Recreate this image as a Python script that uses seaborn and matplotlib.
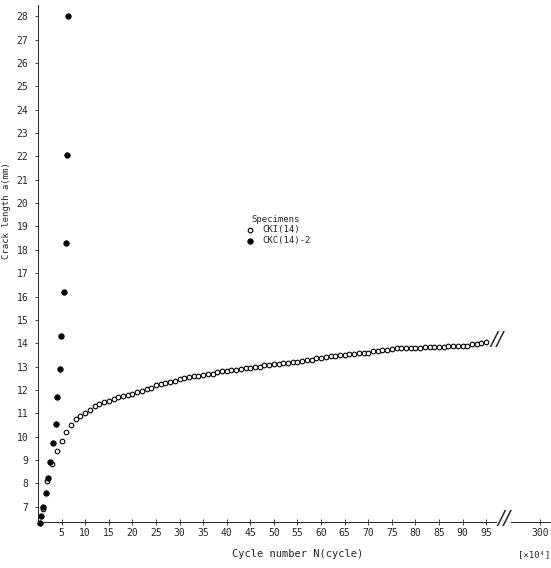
import numpy as np
import pandas as pd
import matplotlib
matplotlib.use("Agg")
import matplotlib.pyplot as plt
import seaborn as sns

# open circles: specimen CKI(14)
cki_cycles = list(range(1, 96))
cki_length = [6.9, 8.1, 8.85, 9.4, 9.8, 10.2, 10.5, 10.75, 10.9, 11.0,
              11.15, 11.3, 11.4, 11.5, 11.55, 11.6, 11.7, 11.75, 11.8, 11.85,
              11.9, 11.95, 12.05, 12.1, 12.2, 12.25, 12.3, 12.35, 12.4, 12.45,
              12.5, 12.55, 12.6, 12.6, 12.65, 12.7, 12.7, 12.75, 12.8, 12.8,
              12.85, 12.85, 12.9, 12.95, 12.95, 13.0, 13.0, 13.05, 13.05, 13.1,
              13.1, 13.15, 13.15, 13.2, 13.2, 13.25, 13.3, 13.3, 13.35, 13.35,
              13.4, 13.45, 13.45, 13.5, 13.5, 13.55, 13.55, 13.6, 13.6, 13.6,
              13.65, 13.65, 13.7, 13.7, 13.75, 13.8, 13.8, 13.8, 13.8, 13.8,
              13.8, 13.85, 13.85, 13.85, 13.85, 13.85, 13.9, 13.9, 13.9, 13.9,
              13.9, 13.95, 13.95, 14.0, 14.05]

# filled circles: specimen CKC(14)
ckc_cycles = [0.4, 0.6, 1.1, 1.7, 2.1, 2.5, 3.2, 3.8, 4.0, 4.7, 4.9, 5.5, 5.9, 6.1, 6.4]
ckc_length = [6.3, 6.6, 7.0, 7.6, 8.25, 8.9, 9.75, 10.55, 11.7, 12.9, 14.3, 16.2, 18.3, 22.05, 28.0]

labels = ["CKI(14)", "CKC(14)-2"]
x_ticks = [5, 10, 15, 20, 25, 30, 35, 40, 45, 50, 55, 60, 65, 70, 75, 80, 85, 90, 95]
y_ticks = list(range(7, 29))

df = pd.concat([
    pd.DataFrame({"N": cki_cycles, "a": cki_length, "spec": labels[0]}),
    pd.DataFrame({"N": ckc_cycles, "a": ckc_length, "spec": labels[1]}),
])

sns.set_style("ticks")
plt.rcParams["font.family"] = ["DejaVu Sans Mono", "DejaVu Sans"]

fig = plt.figure(figsize=(5.51, 5.68), dpi=100)
ax = fig.add_axes([0.069, 0.081, 0.929, 0.911])

sns.scatterplot(data=df[df.spec == labels[0]], x="N", y="a", ax=ax,
                marker="o", s=11, facecolor="white", edgecolor="black",
                linewidth=0.8, label=labels[0], clip_on=False)
sns.scatterplot(data=df[df.spec == labels[1]], x="N", y="a", ax=ax,
                marker="o", s=16, color="black", edgecolor="black",
                linewidth=0.5, label=labels[1], clip_on=False)

ax.set_xlim(0, 108.5)
ax.set_ylim(6.35, 28.5)

# broken axis: 300 sits just past the break
ax.set_xticks(x_ticks + [106.5])
ax.set_xticklabels([str(t) for t in x_ticks] + ["300"], fontsize=7)
ax.set_yticks(y_ticks)
ax.set_yticklabels([str(t) for t in y_ticks], fontsize=7)
ax.tick_params(axis="x", direction="inout", length=4, pad=2, width=0.6)
ax.tick_params(axis="y", direction="out", length=2, pad=5, width=0.6)

sns.despine(ax=ax)
for s in ["left", "bottom"]:
    ax.spines[s].set_linewidth(0.7)

ax.text(98.8, 6.5, "//", fontsize=14, ha="center", va="center",
        style="italic", family="DejaVu Sans",
        bbox=dict(fc="white", ec="none", pad=0.1))
ax.text(97.2, 14.15, "//", fontsize=14, ha="center", va="center",
        style="italic", family="DejaVu Sans")

ax.set_xlabel("")
ax.set_ylabel("")
fig.text(0.54, 0.02, "Cycle number N(cycle)", fontsize=7.5, ha="center")
fig.text(0.998, 0.02, "[×10⁴]", fontsize=6.5, ha="right")
fig.text(0.012, 0.63, "Crack length a(mm)", fontsize=6.5, rotation=90,
         ha="center", va="center")

ax.legend(title="Specimens", loc="upper left", bbox_to_anchor=(0.43, 0.63),
          bbox_transform=fig.transFigure, frameon=False, fontsize=6.5,
          title_fontsize=6.5, handletextpad=0.3, borderpad=0, labelspacing=0.2,
          markerscale=1.0)

fig.savefig("out.png", dpi=100)
